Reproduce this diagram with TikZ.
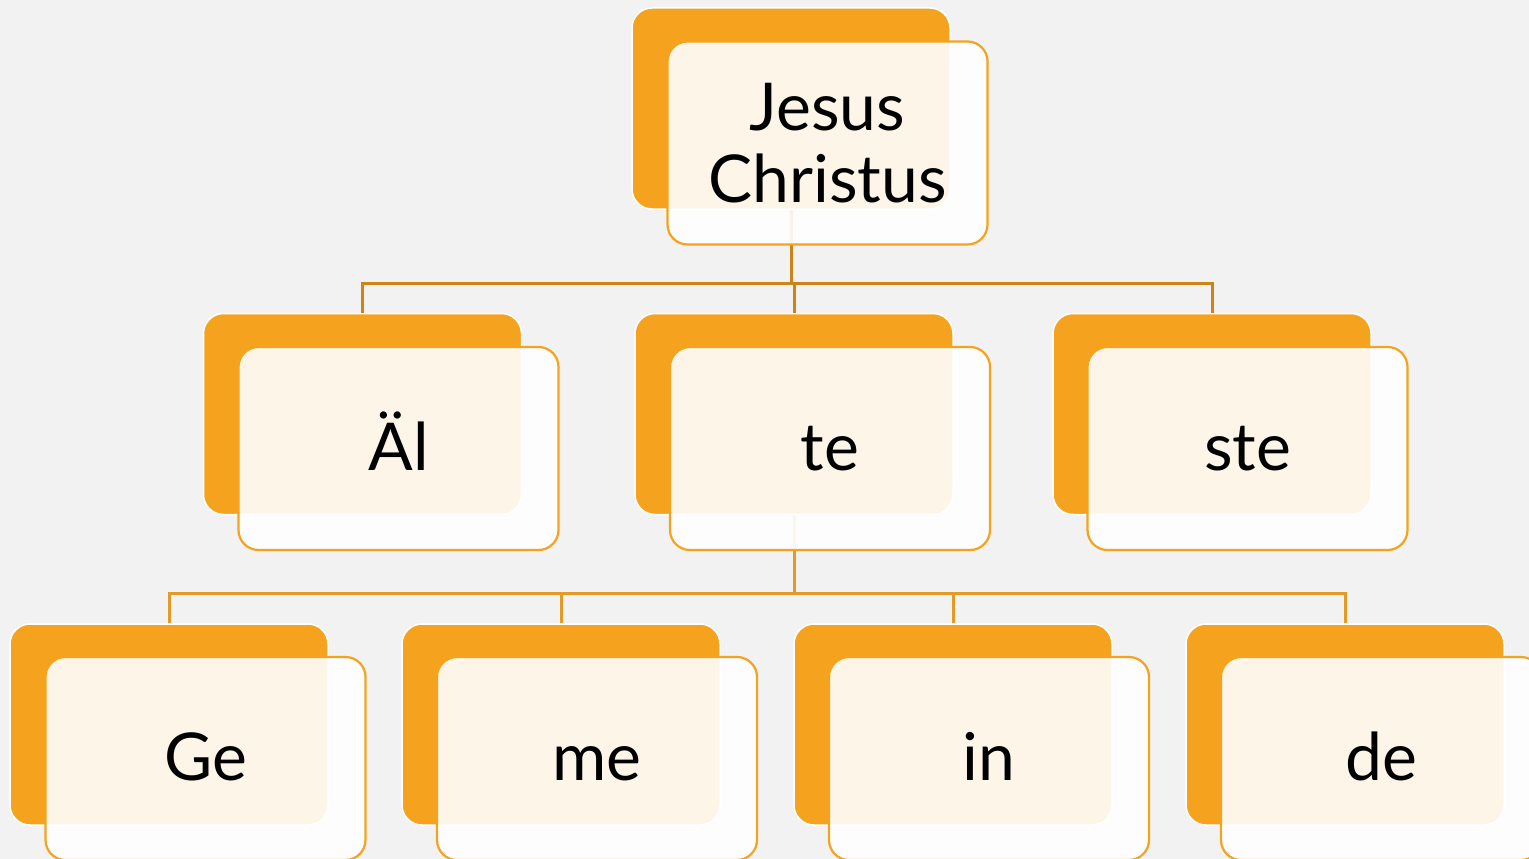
\documentclass[tikz,border=0pt]{standalone}
\usepackage{fontspec}
\setmainfont{Lato}
\definecolor{bg}{HTML}{F2F2F2}
\definecolor{org}{HTML}{F5A31F}
\definecolor{conA}{HTML}{CC8418}
\definecolor{conB}{HTML}{E39A26}
\begin{document}
\begin{tikzpicture}[x=1pt,y=-1pt,
  backbox/.style={draw=white,line width=1.5pt,fill=org,rounded corners=20pt,minimum width=318pt,minimum height=201pt,inner sep=0pt},
  frontbox/.style={draw=org,line width=2.2pt,fill=white,fill opacity=0.9,text opacity=1,rounded corners=20pt,minimum width=320pt,minimum height=203pt,inner sep=0pt,font=\fontsize{66}{72}\selectfont,align=center,text=black},
  oneline/.style={frontbox,text height=55pt,text depth=12pt},
  connA/.style={draw=conA,line width=3pt},
  connB/.style={draw=conB,line width=3pt}]
\fill[bg] (0,0) rectangle (1529,859);
\useasboundingbox (0,0) rectangle (1529,859);
% back boxes
\node[backbox] (b1) at (791,108.5) {};
\node[backbox] (b2) at (362.5,414) {};
\node[backbox] (b3) at (794,414) {};
\node[backbox] (b4) at (1212,414) {};
\node[backbox] (b5) at (169,724.5) {};
\node[backbox] (b6) at (561,724.5) {};
\node[backbox] (b7) at (953,724.5) {};
\node[backbox] (b8) at (1345,724.5) {};
% connectors
\coordinate (h1) at (791,283);
\coordinate (h2) at (794,593);
\draw[connA] (b1.south) -- (h1);
\draw[connA] (h1) -| (b2.north);
\draw[connA] (h1) -| (b3.north);
\draw[connA] (h1) -| (b4.north);
\draw[connB] (b3.south) -- (h2);
\draw[connB] (h2) -| (b5.north);
\draw[connB] (h2) -| (b6.north);
\draw[connB] (h2) -| (b7.north);
\draw[connB] (h2) -| (b8.north);
% front boxes
\node[frontbox] (f1) at (827.5,143) {Jesus\\Christus};
\node[oneline] (f2) at (398.5,448.5) {Äl};
\node[oneline] (f3) at (830,448.5) {te};
\node[oneline] (f4) at (1247.5,448.5) {ste};
\node[oneline] (f5) at (205.5,758.5) {Ge};
\node[oneline] (f6) at (597,758.5) {me};
\node[oneline] (f7) at (989,758.5) {in};
\node[oneline] (f8) at (1381,758.5) {de};
\end{tikzpicture}
\end{document}
